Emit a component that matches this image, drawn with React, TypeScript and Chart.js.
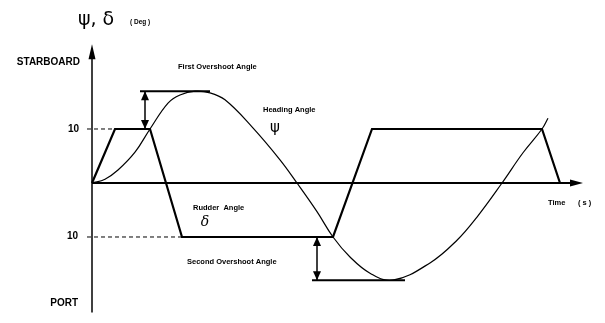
import React, { useEffect, useRef } from "react";
import { Chart, registerables } from "chart.js";

Chart.register(...registerables);

// Rudder angle (deg) over time (s)
const rudderTime = [0, 4.6, 11.6, 18, 48.2, 56, 90, 93.6];
const rudderDeg = [0, 10, 10, -10, -10, 10, 10, 0];

// Heading angle (deg) over time (s)
const headingTime = [0, 2.6, 5.2, 8.6, 11.6, 15.2, 17.6, 20.6, 23.6, 26.6, 32, 37.6, 41, 45, 48.2, 51.6, 55.6, 60.2, 67.6, 73, 77, 82, 86.2, 90, 91.2];
const headingDeg = [0, 0.7, 2.4, 5.7, 10, 14.8, 16.3, 17, 16.7, 15.4, 10.4, 4.3, 0, -5.3, -10, -13.7, -16.7, -18, -14.8, -10.6, -6.3, 0, 5.6, 10, 12];

// Overshoot reference lines
const firstOvershootTime = [9.6, 23.6];
const firstOvershootDeg = 17;
const firstArrowTime = 10.6;
const secondOvershootTime = [44, 62.6];
const secondOvershootDeg = -18;
const secondArrowTime = 45;
const rudderLimit = 10;

// Axis extents
const timeAxisEnd = 98.2;
const degAxisTop = 25.7;
const degAxisBottom = -24;

const pts = (xs: number[], ys: number[]) => xs.map((x, i) => ({ x, y: ys[i] }));

const annotPlugin = {
  id: "annot",
  afterDatasetsDraw(chart: any) {
    const { ctx, scales } = chart;
    const X = (v: number) => scales.x.getPixelForValue(v);
    const Y = (v: number) => scales.y.getPixelForValue(v);
    ctx.save();
    ctx.fillStyle = "#000";
    ctx.strokeStyle = "#000";

    const head = (tx: number, ty: number, dx: number, dy: number, len: number, hw: number) => {
      const bx = tx - dx * len, by = ty - dy * len;
      ctx.beginPath();
      ctx.moveTo(tx, ty);
      ctx.lineTo(bx - dy * hw, by + dx * hw);
      ctx.lineTo(bx + dy * hw, by - dx * hw);
      ctx.closePath();
      ctx.fill();
    };

    // axis arrowheads
    head(X(timeAxisEnd), Y(0), 1, 0, 13, 3.5);
    head(X(0), Y(degAxisTop), 0, -1, 15, 3.5);

    // overshoot double arrows
    const dbl = (t: number, a: number, b: number) => {
      const x = X(t);
      const y1 = Y(a), y2 = Y(b);
      ctx.lineWidth = 1.5;
      ctx.beginPath();
      ctx.moveTo(x, y1);
      ctx.lineTo(x, y2);
      ctx.stroke();
      const dir = y2 > y1 ? 1 : -1;
      head(x, y1, 0, -dir, 9, 4);
      head(x, y2, 0, dir, 9, 4);
    };
    dbl(firstArrowTime, firstOvershootDeg, rudderLimit);
    dbl(secondArrowTime, secondOvershootDeg, -rudderLimit);

    const txt = (s: string, t: number, d: number, font: string, align: CanvasTextAlign = "left") => {
      ctx.font = font;
      ctx.textAlign = align;
      ctx.textBaseline = "middle";
      ctx.fillText(s, X(t), Y(d));
    };
    const lab = "bold 10px 'Liberation Sans', Arial, sans-serif";
    const small = "bold 7.5px 'Liberation Sans', Arial, sans-serif";

    txt("ψ, δ", -2.8, 30.2, "19px 'DejaVu Sans', sans-serif");
    txt("( Deg )", 7.6, 29.8, "bold 6.5px 'Liberation Sans', Arial, sans-serif");
    txt("STARBOARD", -2.4, 22.4, lab, "right");
    txt("10", -2.6, 10, lab, "right");
    txt("10", -2.8, -9.8, lab, "right");
    txt("PORT", -2.8, -22.2, lab, "right");
    txt("First Overshoot Angle", 17.2, 21.5, small);
    txt("Heading Angle", 34.2, 13.5, small);
    txt("ψ", 36.6, 10.2, "15px 'DejaVu Sans', sans-serif", "center");
    txt("Rudder  Angle", 20.2, -4.6, small);
    txt("δ", 22.6, -7.2, "italic 14px 'DejaVu Serif', serif", "center");
    txt("Second Overshoot Angle", 19, -14.6, small);
    txt("Time", 91.2, -3.7, small);
    txt("( s )", 97.2, -3.7, small);
    ctx.restore();
  },
};

export default function App() {
  const ref = useRef<HTMLCanvasElement>(null);
  useEffect(() => {
    if (!ref.current) return;
    const line = (data: any[], width: number, extra: any = {}) => ({
      data,
      borderColor: "#000",
      borderWidth: width,
      pointRadius: 0,
      fill: false,
      tension: 0,
      ...extra,
    });
    const chart = new Chart(ref.current, {
      type: "line",
      data: {
        datasets: [
          line([{ x: 0, y: 0 }, { x: timeAxisEnd - 2, y: 0 }], 2),
          line([{ x: 0, y: degAxisBottom }, { x: 0, y: degAxisTop - 2 }], 1.5),
          line([{ x: -1, y: rudderLimit }, { x: rudderTime[1], y: rudderLimit }], 1, { borderDash: [4, 3] }),
          line([{ x: -1, y: -rudderLimit }, { x: rudderTime[3], y: -rudderLimit }], 1, { borderDash: [4, 3] }),
          line(pts(rudderTime, rudderDeg), 2.2),
          line(pts(headingTime, headingDeg), 1.2, { tension: 0.4 }),
          line(firstOvershootTime.map((x) => ({ x, y: firstOvershootDeg })), 2),
          line(secondOvershootTime.map((x) => ({ x, y: secondOvershootDeg })), 2),
        ],
      },
      options: {
        responsive: false,
        animation: false,
        layout: { padding: 0 },
        plugins: { legend: { display: false }, tooltip: { enabled: false } },
        scales: {
          x: { type: "linear", min: -18.4, max: 102.6, display: false },
          y: { type: "linear", min: -25.93, max: 33.89, display: false },
        },
      },
      plugins: [annotPlugin],
    });
    return () => chart.destroy();
  }, []);
  return (
    <div style={{ position: "fixed", left: 0, top: 0, width: 605, height: 323, background: "#fff" }}>
      <canvas ref={ref} width={605} height={323} />
    </div>
  );
}
